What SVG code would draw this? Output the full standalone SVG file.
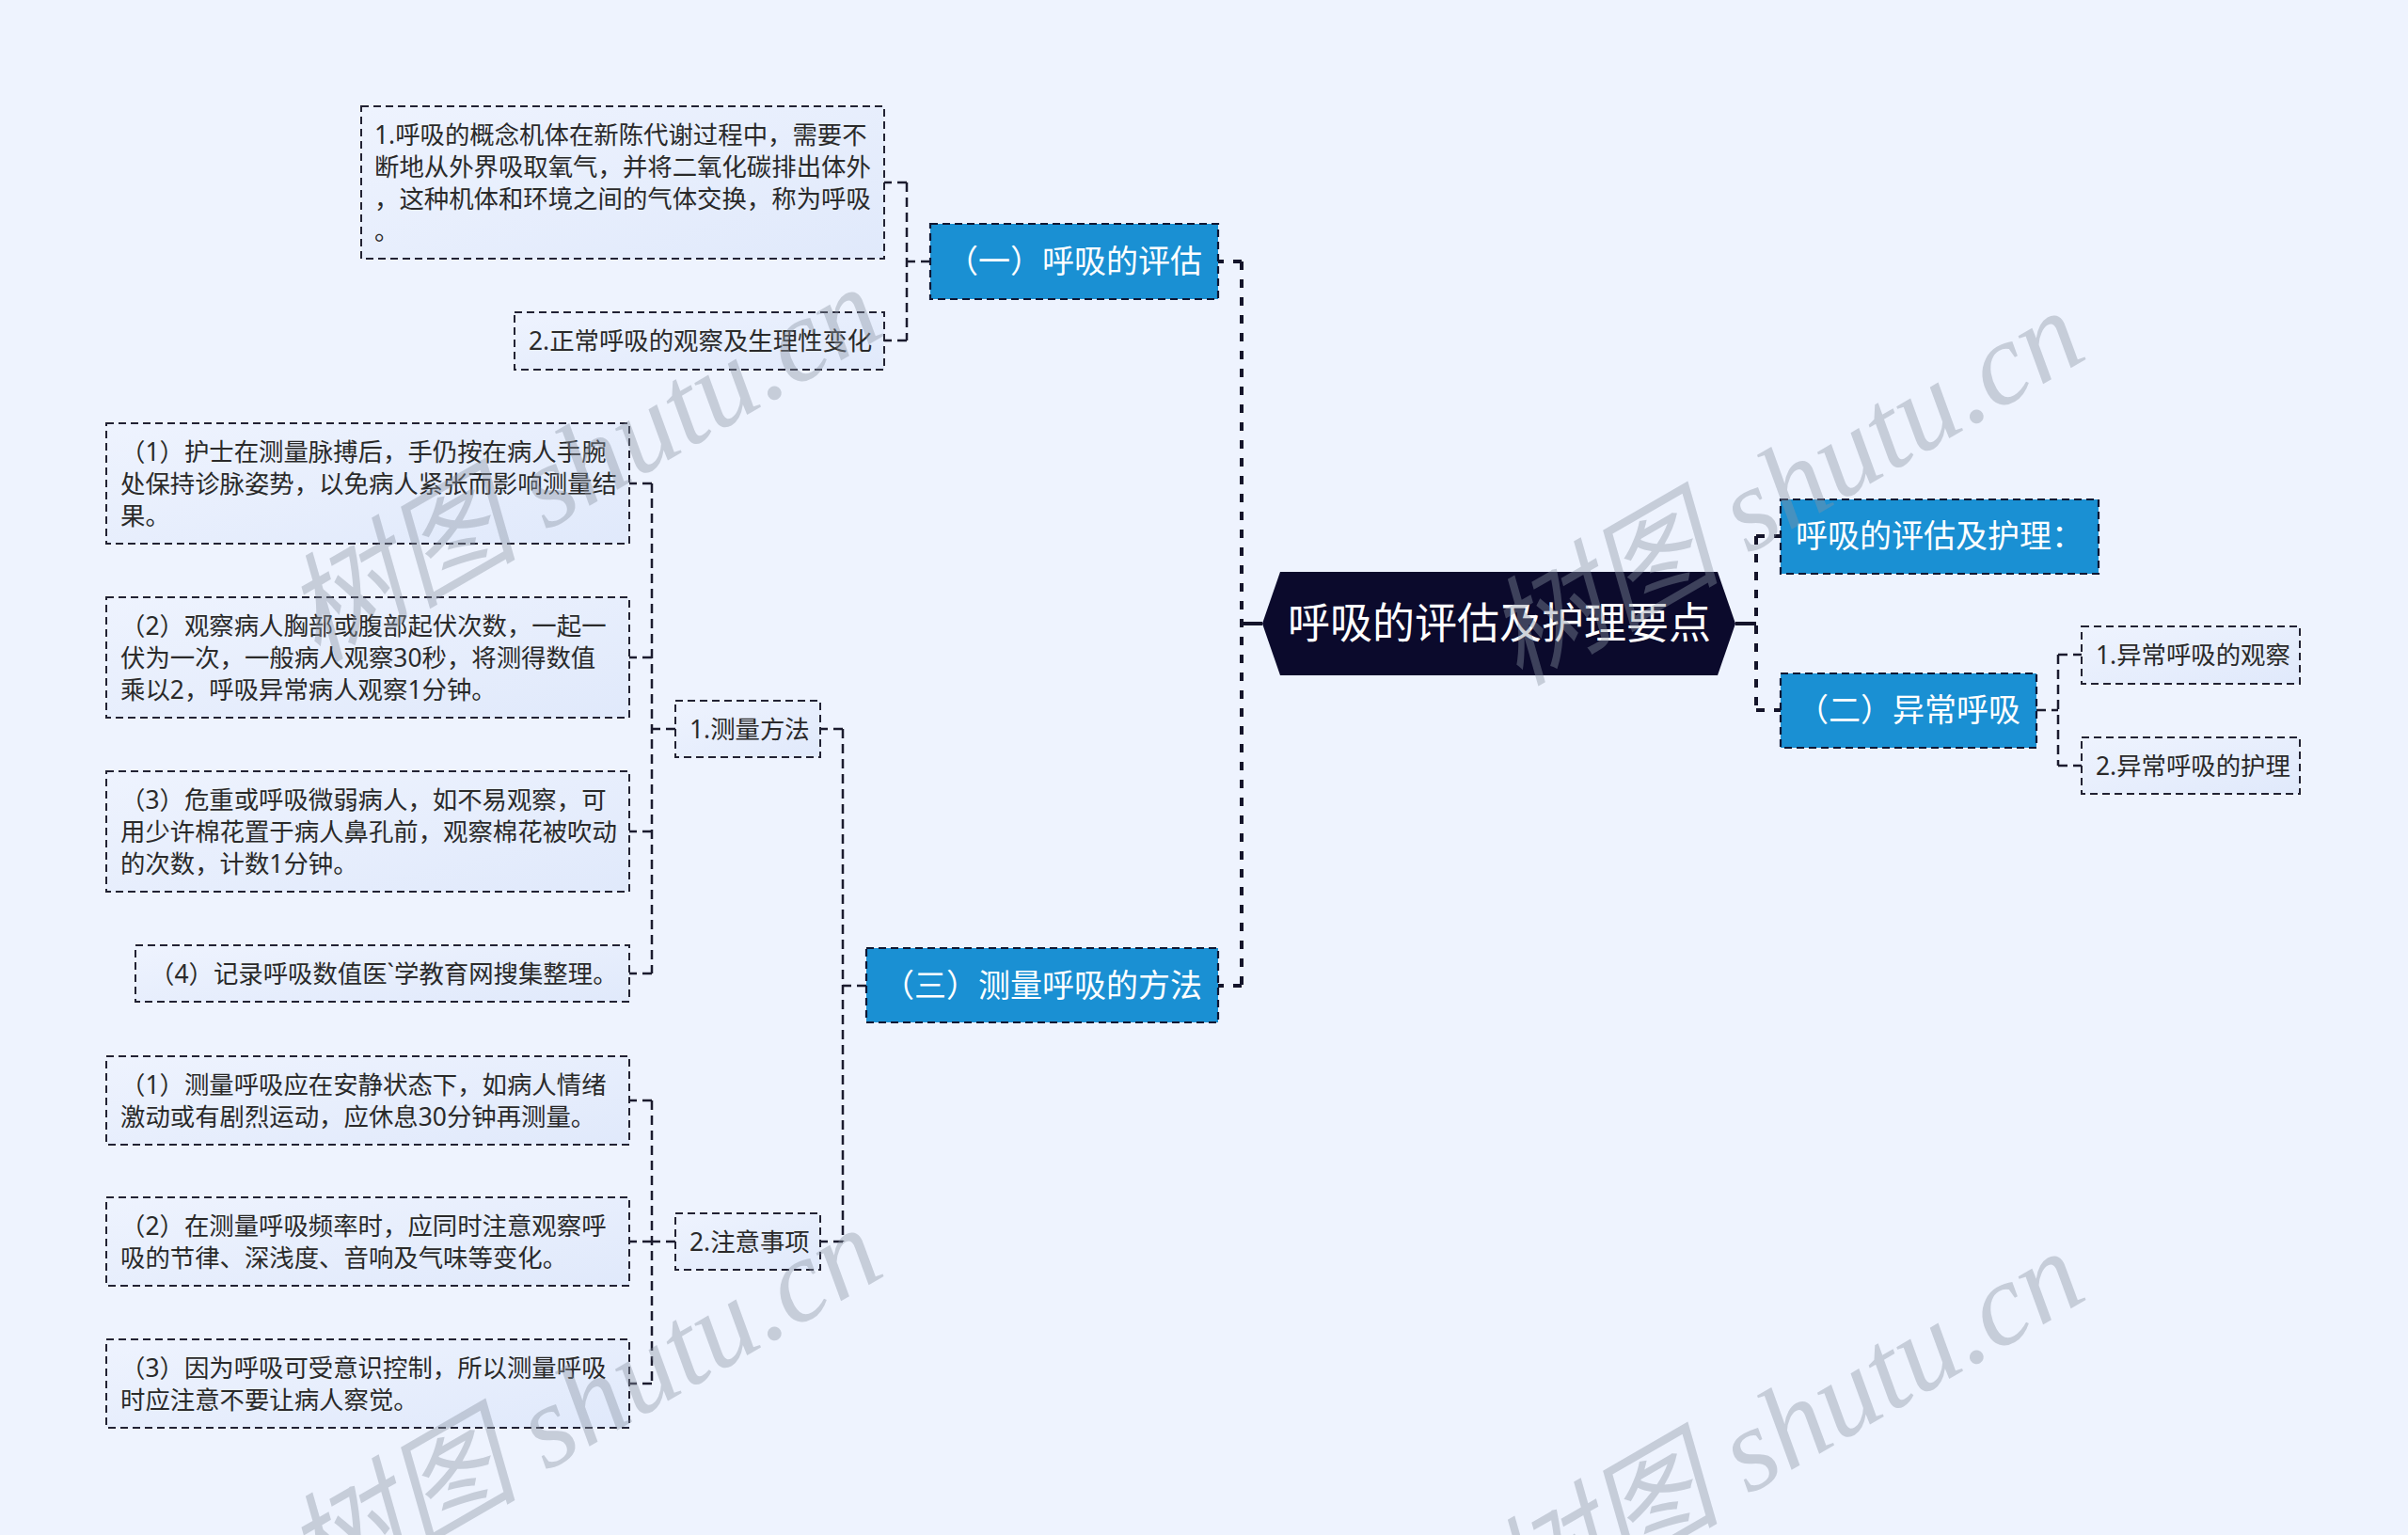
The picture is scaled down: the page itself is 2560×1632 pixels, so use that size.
<svg xmlns="http://www.w3.org/2000/svg" width="2560" height="1632" viewBox="0 0 2560 1632">
<style>
text{font-family:"Noto Sans","Noto Sans CJK SC",sans-serif}
.cm{fill:none;stroke:#14142a;stroke-width:4;stroke-dasharray:9 10}
.cs{fill:none;stroke:#14142a;stroke-width:4}
.c{fill:none;stroke:#1b1b2e;stroke-width:2.5;stroke-dasharray:10 6}
.l1 rect{fill:#1a90d3;stroke:#0f1733;stroke-width:2.2;stroke-dasharray:8 5}
.l1 text{font-size:34px;fill:#ffffff;text-anchor:middle}
.leaf rect{fill:url(#lg);stroke:#222233;stroke-width:2;stroke-dasharray:8 5}
.leaf text{font-size:26.4px;fill:#2a2a2a}
.wm{font-family:"Liberation Serif","Noto Sans CJK SC",serif;font-style:italic;font-size:125px;fill:#8a93a3;fill-opacity:0.4}
</style>
<defs>
<linearGradient id="lg" x1="0" y1="0" x2="1" y2="1">
<stop offset="0" stop-color="#eef3fe"/>
<stop offset="1" stop-color="#e0e9fb"/>
</linearGradient>
</defs>
<rect width="2560" height="1632" fill="#eef3fe"/>

<g id="connectors">
<path class="cs" d="M1342,663 H1320"/>
<path class="cm" d="M1320,278 V1048 M1320,278 H1295 M1320,1048 H1295"/>
<path class="cs" d="M1845,663 H1867"/>
<path class="cm" d="M1867,570 V755 M1867,570 H1893 M1867,755 H1893"/>
<path class="c" d="M2165,755 H2188 M2188,696 V814 M2188,696 H2213 M2188,814 H2213"/>
<path class="c" d="M989,278 H964 M964,194 V362 M964,194 H940 M964,362 H940"/>
<path class="c" d="M921,1048 H896 M896,775 V1320 M896,775 H872 M896,1320 H872"/>
<path class="c" d="M718,775 H693 M693,514 V1035 M693,514 H669 M693,699 H669 M693,884 H669 M693,1035 H669"/>
<path class="c" d="M718,1320 H693 M693,1170 V1471 M693,1170 H669 M693,1320 H669 M693,1471 H669"/>
</g>

<g id="root">
<polygon points="1342,663 1361,608 1826,608 1845,663 1826,718 1361,718" fill="#0b0a2c"/>
<text x="1594" y="679" font-size="45" fill="#ffffff" text-anchor="middle">呼吸的评估及护理要点</text>
</g>

<g id="n-yi" class="l1">
<rect x="989" y="238" width="306" height="80"/>
<text x="1142" y="290">（一）呼吸的评估</text>
</g>
<g id="n-san" class="l1">
<rect x="921" y="1008" width="374" height="79"/>
<text x="1108" y="1060">（三）测量呼吸的方法</text>
</g>
<g id="n-huli" class="l1">
<rect x="1893" y="531" width="338" height="79"/>
<text x="2062" y="582">呼吸的评估及护理：</text>
</g>
<g id="n-er" class="l1">
<rect x="1893" y="716" width="272" height="79"/>
<text x="2029" y="767">（二）异常呼吸</text>
</g>

<g id="n-a1" class="leaf">
<rect x="384" y="113" width="556" height="162"/>
<text x="398" y="152.5">1.呼吸的概念机体在新陈代谢过程中，需要不</text>
<text x="398" y="186.5">断地从外界吸取氧气，并将二氧化碳排出体外</text>
<text x="398" y="220.5">，这种机体和环境之间的气体交换，称为呼吸</text>
<text x="398" y="254.5">。</text>
</g>
<g id="n-a2" class="leaf">
<rect x="547" y="332" width="393" height="61"/>
<text x="562" y="372">2.正常呼吸的观察及生理性变化</text>
</g>

<g id="n-b1" class="leaf">
<rect x="718" y="745" width="154" height="60"/>
<text x="733" y="784.5">1.测量方法</text>
</g>
<g id="n-b2" class="leaf">
<rect x="718" y="1290" width="154" height="60"/>
<text x="733" y="1329.5">2.注意事项</text>
</g>

<g id="n-c1" class="leaf">
<rect x="113" y="450" width="556" height="128"/>
<text x="128" y="489.5">（1）护士在测量脉搏后，手仍按在病人手腕</text>
<text x="128" y="523.5">处保持诊脉姿势，以免病人紧张而影响测量结</text>
<text x="128" y="557.5">果。</text>
</g>
<g id="n-c2" class="leaf">
<rect x="113" y="635" width="556" height="128"/>
<text x="128" y="674.5">（2）观察病人胸部或腹部起伏次数，一起一</text>
<text x="128" y="708.5">伏为一次，一般病人观察30秒，将测得数值</text>
<text x="128" y="742.5">乘以2，呼吸异常病人观察1分钟。</text>
</g>
<g id="n-c3" class="leaf">
<rect x="113" y="820" width="556" height="128"/>
<text x="128" y="859.5">（3）危重或呼吸微弱病人，如不易观察，可</text>
<text x="128" y="893.5">用少许棉花置于病人鼻孔前，观察棉花被吹动</text>
<text x="128" y="927.5">的次数，计数1分钟。</text>
</g>
<g id="n-c4" class="leaf">
<rect x="144" y="1005" width="525" height="60"/>
<text x="159" y="1044.5">（4）记录呼吸数值医`学教育网搜集整理。</text>
</g>

<g id="n-d1" class="leaf">
<rect x="113" y="1123" width="556" height="94"/>
<text x="128" y="1162.5">（1）测量呼吸应在安静状态下，如病人情绪</text>
<text x="128" y="1196.5">激动或有剧烈运动，应休息30分钟再测量。</text>
</g>
<g id="n-d2" class="leaf">
<rect x="113" y="1273" width="556" height="94"/>
<text x="128" y="1312.5">（2）在测量呼吸频率时，应同时注意观察呼</text>
<text x="128" y="1346.5">吸的节律、深浅度、音响及气味等变化。</text>
</g>
<g id="n-d3" class="leaf">
<rect x="113" y="1424" width="556" height="94"/>
<text x="128" y="1463.5">（3）因为呼吸可受意识控制，所以测量呼吸</text>
<text x="128" y="1497.5">时应注意不要让病人察觉。</text>
</g>

<g id="n-e1" class="leaf">
<rect x="2213" y="666" width="232" height="61"/>
<text x="2228" y="706">1.异常呼吸的观察</text>
</g>
<g id="n-e2" class="leaf">
<rect x="2213" y="784" width="232" height="60"/>
<text x="2228" y="823.5">2.异常呼吸的护理</text>
</g>

<g id="watermark">
<text class="wm" transform="translate(337,705) rotate(-30)">树图 shutu.cn</text>
<text class="wm" transform="translate(1615,730) rotate(-30)">树图 shutu.cn</text>
<text class="wm" transform="translate(337,1705) rotate(-30)">树图 shutu.cn</text>
<text class="wm" transform="translate(1615,1730) rotate(-30)">树图 shutu.cn</text>
</g>
</svg>
